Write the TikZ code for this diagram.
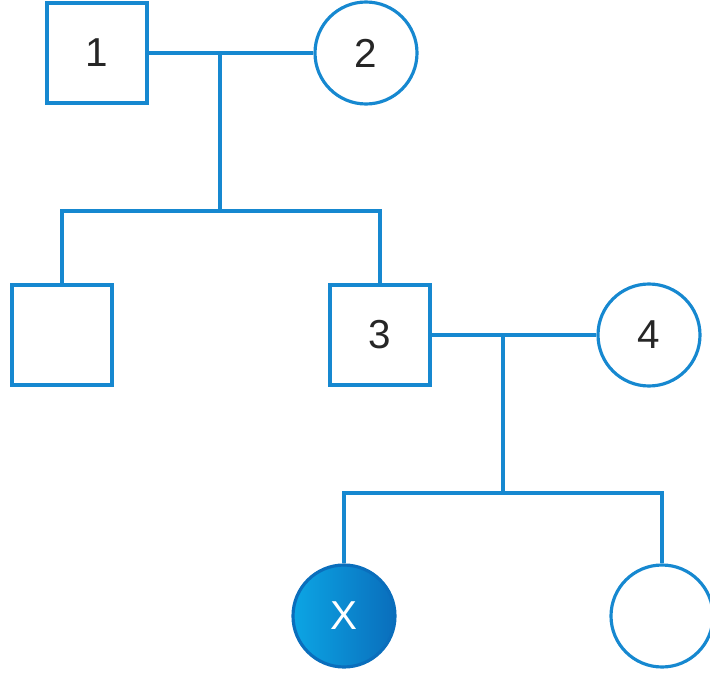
\documentclass[tikz,border=0pt]{standalone}
\usepackage{fontspec}
\setmainfont{Liberation Sans}
\usetikzlibrary{positioning,calc}

\definecolor{pedline}{RGB}{22,136,208}
\definecolor{pedlight}{RGB}{12,165,228}
\definecolor{peddark}{RGB}{10,110,188}

\tikzset{
  male/.style={draw=pedline,line width=0.9pt,minimum size=1cm,inner sep=0pt,text=black!85},
  female/.style={draw=pedline,line width=0.9pt,circle,minimum size=1.02cm,inner sep=0pt,text=black!85},
  affected/.style={female,draw=peddark,left color=pedlight,right color=peddark,text=white},
  link/.style={draw=pedline,line width=0.9pt}
}

\begin{document}
\begin{tikzpicture}[node distance=2.69cm,on grid,font=\fontsize{11.5}{13}\selectfont]
   \useasboundingbox (0,0) rectangle (7.10,-6.73);
   \node[male] (m_1) at (0.97,-0.53) {1};
   \node[female] (f_2) [right=of m_1] {2};
   \node[male] (m_a) [below left=2.82cm and 0.35cm of m_1] {};
   \node[male] (m_3) [right=3.18cm of m_a] {3};
   \node[female] (f_4) [right=of m_3] {4};
   \node[affected] (f_x) [below left=2.81cm and 0.36cm of m_3] {X};
   \node[female] (f_b) [right=3.18cm of f_x] {};
   % first marriage and its children
   \coordinate (c_12) at ($(m_1)!0.457!(f_2)$);
   \coordinate (s_12) at ($(c_12)+(0,-1.58)$);
   \path[link] (m_1) -- (f_2)
               (c_12) -- (s_12)
               (m_a) |- (s_12) -| (m_3);
   % second marriage and its children
   \coordinate (c_34) at ($(m_3)!0.457!(f_4)$);
   \coordinate (s_34) at ($(c_34)+(0,-1.58)$);
   \path[link] (m_3) -- (f_4)
               (c_34) -- (s_34)
               (f_x) |- (s_34) -| (f_b);
\end{tikzpicture}
\end{document}
